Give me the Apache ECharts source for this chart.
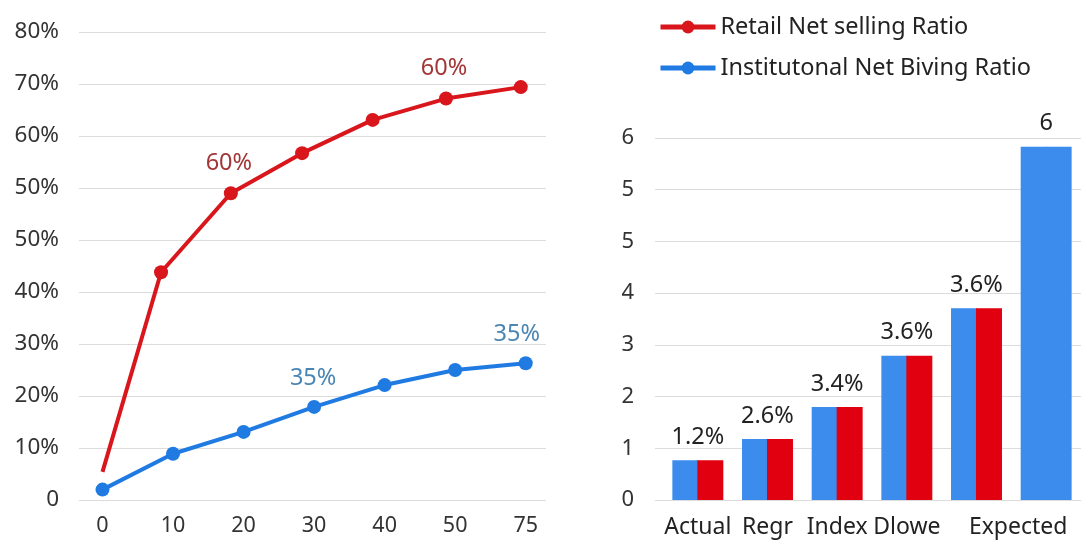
<!DOCTYPE html>
<html>
<head>
<meta charset="utf-8">
<script src="https://cdn.jsdelivr.net/npm/echarts@6/dist/echarts.min.js"></script>
<style>
html,body{margin:0;padding:0;background:#fff;}
#c{width:1081px;height:541px;}
</style>
</head>
<body>
<div id="c"></div>
<script>
// ---- data ----
const lineXLabels = ['0', '10', '20', '30', '40', '50', '75'];
const leftYLabels = ['0', '10%', '20%', '30%', '40%', '50%', '50%', '60%', '70%', '80%'];
const retailX = [0, 0.83, 1.82, 2.83, 3.83, 4.87, 5.93];
const retailY = [0.54, 4.38, 5.9, 6.67, 7.31, 7.72, 7.94];
const retailLabels = ['', '', '60%', '', '', '60%', ''];
const instX = [0, 1, 2, 3, 4, 5, 6];
const instY = [0.2, 0.89, 1.31, 1.79, 2.21, 2.5, 2.63];
const instLabels = ['', '', '', '35%', '', '', '35%'];

const barCategories = ['Actual', 'Regr', 'Index', 'Dlowe', '', 'Expected'];
const rightYLabels = ['0', '1', '2', '3', '4', '5', '5', '6'];
const instBars = [0.77, 1.18, 1.8, 2.79, 3.71, 6.83];
const retailBars = [0.77, 1.18, 1.8, 2.79, 3.71, 6.83];
const barLabels = ['1.2%', '2.6%', '3.4%', '3.6%', '3.6%', '6'];

// ---- styles ----
const RED = '#d8161c', BLUE = '#1f7ae2';
const BAR_BLUE = '#3b8cec', BAR_RED = '#e0000f';
const FONT = 'Noto Sans';
const labelOffsets = { 'inst-6': [-9, 0] };

const retailData = retailX.map((x, i) => {
  const item = { value: [x, retailY[i]] };
  if (i === 0) item.symbol = 'none';
  if (retailLabels[i]) item.label = { show: true, formatter: retailLabels[i], offset: labelOffsets['retail-' + i] || [-2, 0] };
  return item;
});
const instData = instX.map((x, i) => {
  const item = { value: [x, instY[i]] };
  if (instLabels[i]) item.label = { show: true, formatter: instLabels[i], offset: labelOffsets['inst-' + i] || [-1, 0] };
  return item;
});
const lastStyle = { color: BAR_BLUE };
const instBarData = instBars.map((v, i) => i === instBars.length - 1 ? { value: v, itemStyle: lastStyle } : v);
const retailBarData = retailBars.map((v, i) => i === retailBars.length - 1 ? { value: v, itemStyle: lastStyle } : v);

const chart = echarts.init(document.getElementById('c'), null, { renderer: 'canvas' });
chart.setOption({
  animation: false,
  backgroundColor: '#fff',
  textStyle: { fontFamily: FONT },
  legend: {
    orient: 'vertical',
    left: 653,
    top: 8,
    itemWidth: 55,
    itemHeight: 16,
    itemGap: 13,
    data: ['Retail Net selling Ratio', 'Institutonal Net Biving Ratio'],
    lineStyle: { width: 5 },
    textStyle: { fontSize: 23.5, color: '#222', fontFamily: FONT, lineHeight: 28, padding: [0, 0, 0, 0] }
  },
  grid: [
    { left: 102.5, right: 1081 - 525.7, top: 32, bottom: 41 },   // line series
    { left: 79, right: 1081 - 546, top: 32, bottom: 41 },        // left gridlines + y labels
    { left: 663, right: -4, top: 138, bottom: 41 },               // bars
    { left: 655, right: 0, top: 138, bottom: 41 }                 // right gridlines + y labels
  ],
  xAxis: [
    { gridIndex: 0, type: 'value', min: 0, max: 6, interval: 1,
      axisLine: { show: false }, axisTick: { show: false }, splitLine: { show: false },
      axisLabel: { fontSize: 21.5, color: '#333', margin: 15, fontFamily: FONT,
        formatter: v => lineXLabels[Math.round(v)] } },
    { gridIndex: 1, type: 'value', show: false, min: 0, max: 1 },
    { gridIndex: 2, type: 'category', data: barCategories,
      axisLine: { show: false }, axisTick: { show: false },
      axisLabel: { interval: 0, fontSize: 23, color: '#222', margin: 16, fontFamily: FONT,
        formatter: v => v === 'Expected' ? '{e|' + v + '}' : v,
        rich: { e: { fontSize: 23, color: '#222', fontFamily: FONT, padding: [0, 56, 0, 0] } } } },
    { gridIndex: 3, type: 'value', show: false, min: 0, max: 1 }
  ],
  yAxis: [
    { gridIndex: 0, type: 'value', min: 0, max: 9, interval: 1, show: false },
    { gridIndex: 1, type: 'value', min: 0, max: 9, interval: 1,
      axisLine: { show: false }, axisTick: { show: false },
      splitLine: { lineStyle: { color: '#dcdcdc', width: 1 } },
      axisLabel: { fontSize: 22.5, color: '#333', margin: 20, fontFamily: FONT,
        formatter: v => leftYLabels[Math.round(v)] } },
    { gridIndex: 2, type: 'value', min: 0, max: 7, interval: 1, show: false },
    { gridIndex: 3, type: 'value', min: 0, max: 7, interval: 1,
      axisLine: { show: false }, axisTick: { show: false },
      splitLine: { lineStyle: { color: '#dcdcdc', width: 1 } },
      axisLabel: { fontSize: 22, color: '#333', margin: 21, fontFamily: FONT,
        formatter: v => rightYLabels[Math.round(v)] } }
  ],
  series: [
    { name: 'Retail Net selling Ratio', type: 'line', xAxisIndex: 0, yAxisIndex: 0,
      data: retailData, symbol: 'circle', symbolSize: 14, z: 3,
      lineStyle: { color: RED, width: 4 }, itemStyle: { color: RED },
      label: { position: 'top', distance: 11, fontSize: 23.5, color: '#a23636', fontFamily: FONT } },
    { name: 'Institutonal Net Biving Ratio', type: 'line', xAxisIndex: 0, yAxisIndex: 0,
      data: instData, symbol: 'circle', symbolSize: 14, z: 4,
      lineStyle: { color: BLUE, width: 4 }, itemStyle: { color: BLUE },
      label: { position: 'top', distance: 10, fontSize: 23.5, color: '#4a86b4', fontFamily: FONT } },
    { name: 'inst-bar', type: 'bar', xAxisIndex: 2, yAxisIndex: 2,
      data: instBarData, barWidth: 26, barGap: '-4%', itemStyle: { color: BAR_BLUE } },
    { name: 'retail-bar', type: 'bar', xAxisIndex: 2, yAxisIndex: 2,
      data: retailBarData, barWidth: 26, barGap: '-4%', itemStyle: { color: BAR_RED },
      label: { show: true, position: 'top', distance: 11, offset: [-12.5, 0],
        fontSize: 23.5, color: '#222', fontFamily: FONT,
        formatter: p => barLabels[p.dataIndex] } }
  ]
});
</script>
</body>
</html>
